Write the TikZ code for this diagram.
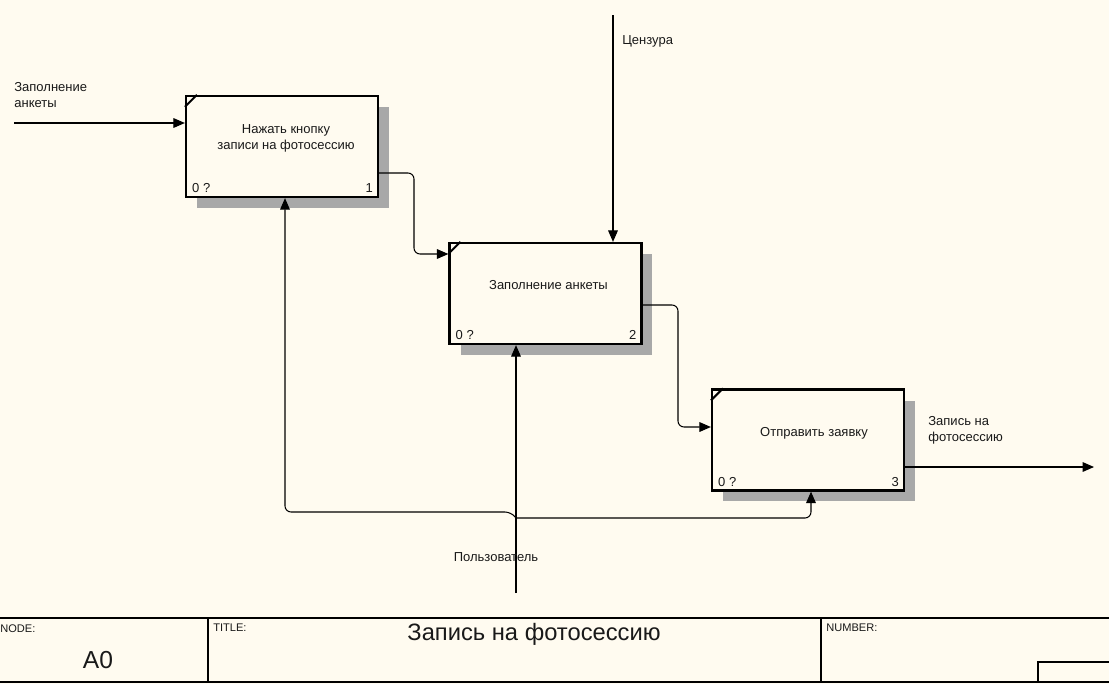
\documentclass[tikz,border=0pt]{standalone}
\usepackage{fontspec}
\setmainfont{Liberation Sans}
\usetikzlibrary{arrows.meta,shadows}
\definecolor{paper}{RGB}{255,251,240}
\definecolor{ink}{RGB}{25,25,25}
\tikzset{
  act/.style={draw=black,line width=1.3pt,fill=paper,minimum width=3.84cm,minimum height=2.02cm,inner sep=0pt,
    general shadow={shadow xshift=0.22cm,shadow yshift=-0.22cm,fill=black!34}},
  flow/.style={line width=0.6pt,rounded corners=0.12cm,-{Triangle[length=6.5pt,width=5.5pt]}},
  lbl/.style={font=\fontsize{7.4}{9.1}\selectfont,text=ink,inner sep=0pt},
  framecap/.style={font=\fontsize{6.3}{7.5}\selectfont,text=ink,inner sep=0pt}
}
\begin{document}
\begin{tikzpicture}[x=0.02cm,y=-0.02cm]
\fill[paper] (0,0) rectangle (1109,684);
\useasboundingbox (0,0) rectangle (1109,684);
\node[act] (b1) at (282,146.5) {};
\node[act] (b2) at (545.5,293.5) {};
\node[act] (b3) at (808,440) {};
\draw[line width=1.2pt] ([yshift=-0.24cm]b1.north west) -- ([xshift=0.24cm]b1.north west);
\draw[line width=1.2pt] ([yshift=-0.24cm]b2.north west) -- ([xshift=0.24cm]b2.north west);
\draw[line width=1.2pt] ([yshift=-0.24cm]b3.north west) -- ([xshift=0.24cm]b3.north west);
\node[lbl,align=center] (t1) at ([xshift=0.08cm,yshift=0.17cm]b1.center) {Нажать кнопку\\записи на фотосессию};
\node[lbl] (t2) at ([xshift=0.06cm,yshift=0.17cm]b2.center) {Заполнение анкеты};
\node[lbl] (t3) at ([xshift=0.12cm,yshift=0.14cm]b3.center) {Отправить заявку};
\node[lbl,anchor=south west] (c1) at ([xshift=0.14cm,yshift=0.1cm]b1.south west) {0 ?};
\node[lbl,anchor=south east] (n1) at ([xshift=-0.12cm,yshift=0.1cm]b1.south east) {1};
\node[lbl,anchor=south west] (c2) at ([xshift=0.14cm,yshift=0.1cm]b2.south west) {0 ?};
\node[lbl,anchor=south east] (n2) at ([xshift=-0.12cm,yshift=0.1cm]b2.south east) {2};
\node[lbl,anchor=south west] (c3) at ([xshift=0.14cm,yshift=0.1cm]b3.south west) {0 ?};
\node[lbl,anchor=south east] (n3) at ([xshift=-0.12cm,yshift=0.1cm]b3.south east) {3};
\coordinate (in) at (14,123);
\coordinate (cz) at (613,15);
\coordinate (out) at (1094,467);
\coordinate (usr) at (516,593);
\coordinate (fork) at (516,518);
\coordinate (j1) at (285,512);
\coordinate (j3) at (811,518);
\draw[flow] (in) -- (b1.west |- in);
\draw[flow] (cz) -- (cz |- b2.north);
\draw[flow] (b3.east |- out) -- (out);
\draw[flow] (b1.east |- 0,173) -- (414,173) -- (414,254) -- (b2.west |- 0,254);
\draw[flow] (b2.east |- 0,305) -- (678,305) -- (678,427) -- (b3.west |- 0,427);
\draw[flow] (usr) -- (usr |- b2.south);
\draw[flow] (fork) -- (511,512) -- (j1) -- (j1 |- b1.south);
\draw[flow] (fork) -- (j3) -- (j3 |- b3.south);
\node[lbl,anchor=north west,align=left] (inlbl) at (14,82) {Заполнение\\анкеты};
\node[lbl,anchor=base west] (czlbl) at (622,44) {Цензура};
\node[lbl] (usrlbl) at (496,557) {Пользователь};
\node[lbl,anchor=north west,align=left] (outlbl) at (928,416) {Запись на\\фотосессию};
\draw[line width=0.9pt] (0,618) -- (1109,618);
\draw[line width=0.9pt] (0,682) -- (1109,682);
\draw[line width=0.7pt] (208,618) -- (208,682);
\draw[line width=0.7pt] (821,618) -- (821,682);
\draw[line width=0.7pt] (1038,682) -- (1038,662) -- (1109,662);
\node[framecap,anchor=north west] (nodecap) at (0,624) {NODE:};
\node[framecap,anchor=north west] (titlecap) at (213,624) {TITLE:};
\node[framecap,anchor=north west] (numcap) at (826,624) {NUMBER:};
\node[font=\fontsize{14}{16}\selectfont,text=ink,inner sep=0pt] (nodeid) at (98,660) {A0};
\node[font=\fontsize{13.5}{16}\selectfont,text=ink,inner sep=0pt] (titletxt) at (534,634) {Запись на фотосессию};
\end{tikzpicture}
\end{document}
